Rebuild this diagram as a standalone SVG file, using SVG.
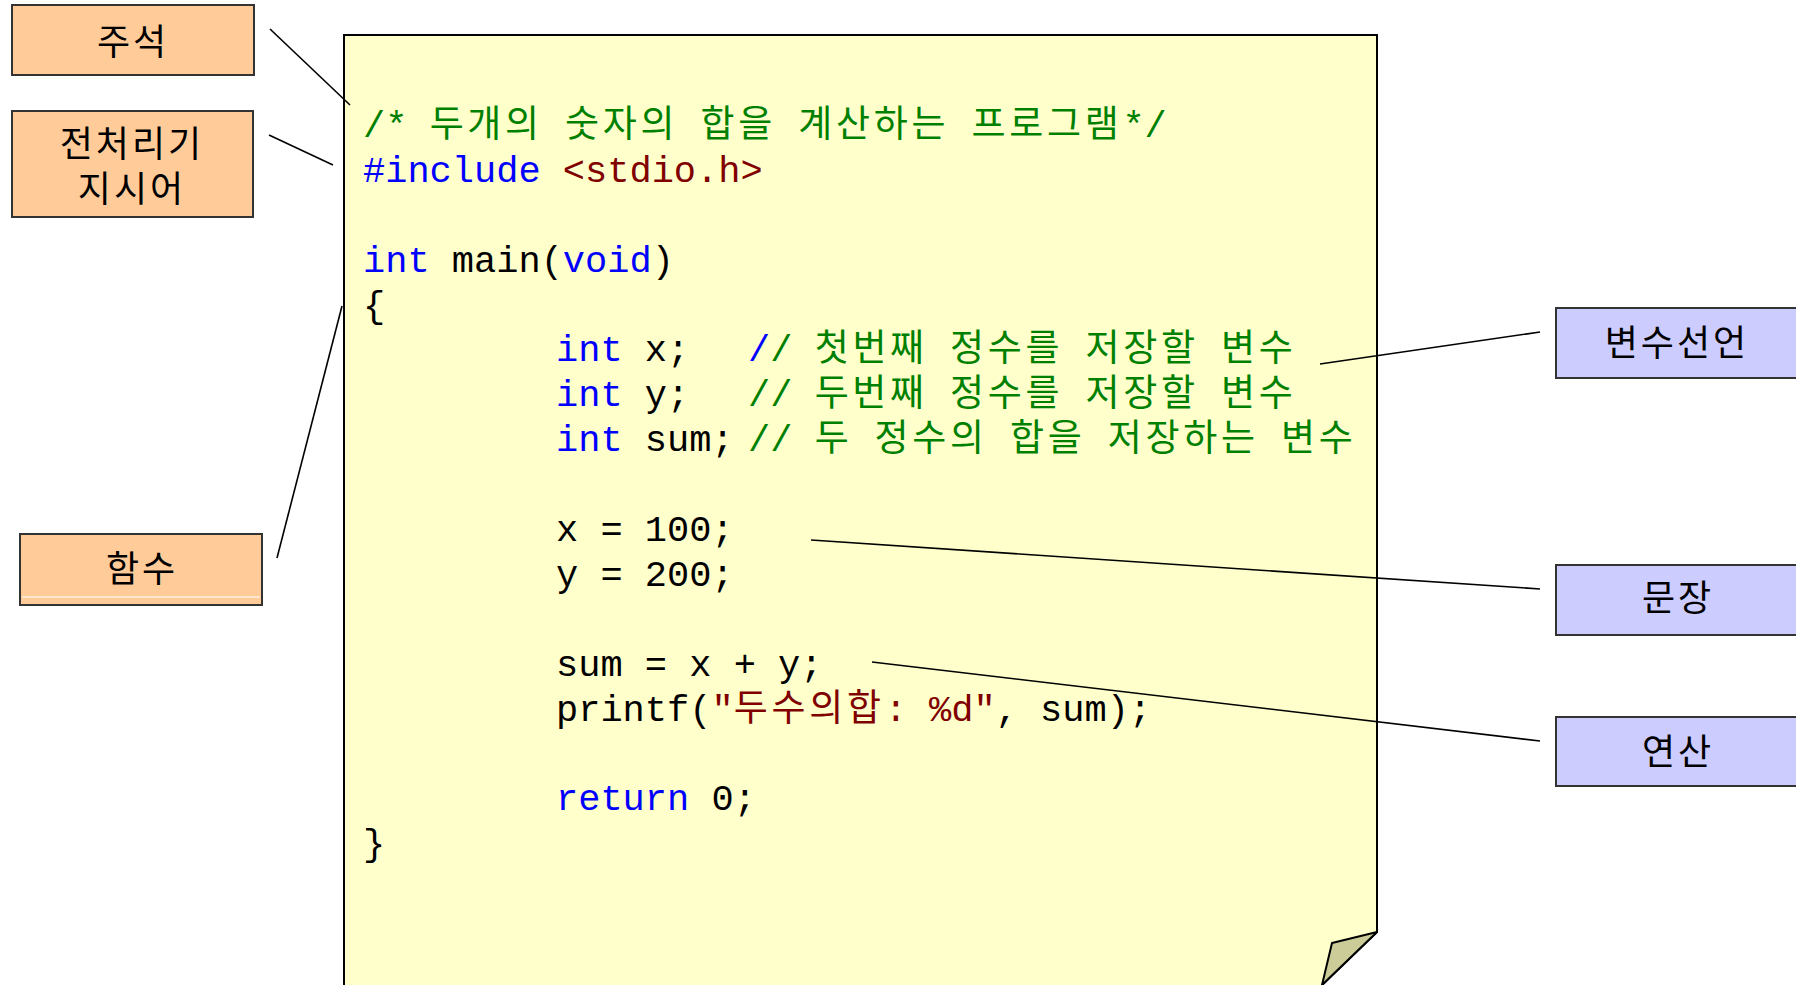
<svg xmlns="http://www.w3.org/2000/svg" width="1796" height="985" viewBox="0 0 1796 985">
<style>
.code{font-family:"Liberation Mono","Noto Sans CJK KR",monospace;font-size:37px;fill:#000;white-space:pre}
.ko{letter-spacing:3.7px}
.kw{fill:#0000FF}
.cm{fill:#008000}
.st{fill:#800000}
.lbl{font-family:"Liberation Sans","Noto Sans CJK KR",sans-serif;font-size:36px;letter-spacing:3px;fill:#000;text-anchor:middle}
.orange{fill:#FFCC99;stroke:#333;stroke-width:2}
.blue{fill:#CCCCFF;stroke:#333;stroke-width:2}
.conn line{stroke:#000;stroke-width:1.6}
</style>
<rect width="1796" height="985" fill="#FFFFFF"/>
<g id="page">
<path d="M344,35 L1377,35 L1377,932 L1317,990 L344,990 Z" fill="#FFFFCC" stroke="#000" stroke-width="2"/>
<path d="M1377,932 L1332,943 L1322,985 Z" fill="#CCCC99" stroke="#000" stroke-width="2" stroke-linejoin="round"/>
<g id="code">
<text class="code cm" xml:space="preserve" x="363" y="137">/* <tspan class="ko">두개의</tspan> <tspan class="ko">숫자의</tspan> <tspan class="ko">합을</tspan> <tspan class="ko">계산하는</tspan> <tspan class="ko">프로그램</tspan>*/</text>
<text class="code" xml:space="preserve" x="363" y="182"><tspan class="kw">#include</tspan><tspan class="st"> &lt;stdio.h&gt;</tspan></text>
<text class="code" xml:space="preserve" x="363" y="272"><tspan class="kw">int</tspan> main(<tspan class="kw">void</tspan>)</text>
<text class="code" xml:space="preserve" x="363" y="317">{</text>
<text class="code" xml:space="preserve" x="556" y="361"><tspan class="kw">int</tspan> x;<tspan class="kw" x="748">/</tspan><tspan class="cm">/ <tspan class="ko">첫번째</tspan> <tspan class="ko">정수를</tspan> <tspan class="ko">저장할</tspan> <tspan class="ko">변수</tspan></tspan></text>
<text class="code" xml:space="preserve" x="556" y="406"><tspan class="kw">int</tspan> y;<tspan class="cm" x="748">// <tspan class="ko">두번째</tspan> <tspan class="ko">정수를</tspan> <tspan class="ko">저장할</tspan> <tspan class="ko">변수</tspan></tspan></text>
<text class="code" xml:space="preserve" x="556" y="451"><tspan class="kw">int</tspan> sum;<tspan class="cm" x="748">// <tspan class="ko">두</tspan> <tspan class="ko">정수의</tspan> <tspan class="ko">합을</tspan> <tspan class="ko">저장하는</tspan> <tspan class="ko">변수</tspan></tspan></text>
<text class="code" xml:space="preserve" x="556" y="541">x = 100;</text>
<text class="code" xml:space="preserve" x="556" y="586">y = 200;</text>
<text class="code" xml:space="preserve" x="556" y="676">sum = x + y;</text>
<text class="code" xml:space="preserve" x="556" y="721">printf(<tspan class="st">"<tspan class="ko">두수의합</tspan>: %d"</tspan>, sum);</text>
<text class="code" xml:space="preserve" x="556" y="810"><tspan class="kw">return</tspan> 0;</text>
<text class="code" xml:space="preserve" x="363" y="855">}</text>
</g>
</g>
<g id="connectors" class="conn">
<line x1="270" y1="29" x2="350" y2="105"/>
<line x1="269" y1="135" x2="333" y2="165"/>
<line x1="277" y1="558" x2="342" y2="306"/>
<line x1="1320" y1="364" x2="1540" y2="332"/>
<line x1="811" y1="540" x2="1540" y2="589"/>
<line x1="872" y1="662" x2="1540" y2="741"/>
</g>
<g id="node-jusuk">
<rect class="orange" x="12" y="5" width="242" height="70"/>
<text class="lbl" x="133" y="55">주석</text>
</g>
<g id="node-jeoncheori">
<rect class="orange" x="12" y="111" width="241" height="106"/>
<text class="lbl"><tspan x="132" y="157">전처리기</tspan><tspan x="132" y="202">지시어</tspan></text>
</g>
<g id="node-hamsu">
<rect class="orange" x="20" y="534" width="242" height="71"/>
<line x1="22" y1="597" x2="260" y2="597" stroke="#FFFFFF" stroke-width="1"/>
<text class="lbl" x="142" y="582">함수</text>
</g>
<g id="node-byeonsu">
<rect class="blue" x="1556" y="308" width="242" height="70"/>
<text class="lbl" x="1677" y="356">변수선언</text>
</g>
<g id="node-munjang">
<rect class="blue" x="1556" y="565" width="242" height="70"/>
<text class="lbl" x="1678" y="611">문장</text>
</g>
<g id="node-yeonsan">
<rect class="blue" x="1556" y="717" width="242" height="69"/>
<text class="lbl" x="1678" y="765">연산</text>
</g>
</svg>
